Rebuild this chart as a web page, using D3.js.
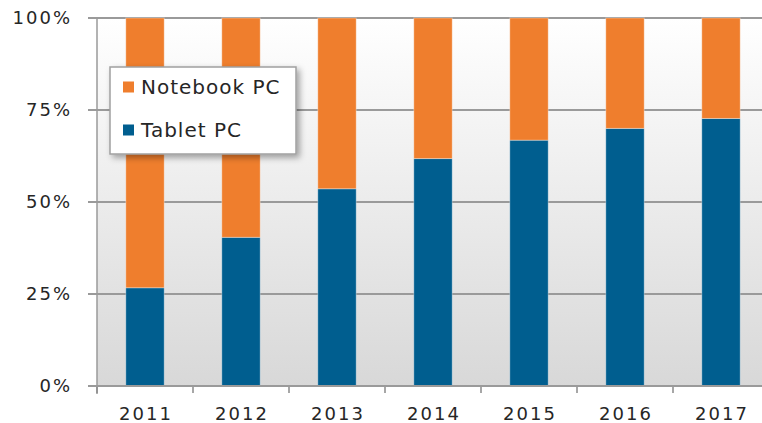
<!DOCTYPE html>
<html>
<head>
<meta charset="utf-8">
<script src="https://cdn.jsdelivr.net/npm/d3@7"></script>
<style>
  body { margin: 0; background: #fff; }
  svg text { font-family: Verdana, "DejaVu Sans", sans-serif; fill: #262626; }
</style>
</head>
<body>
<div id="chart"></div>
<script>
var years = ['2011', '2012', '2013', '2014', '2015', '2016', '2017'];
var tablet = [26.7, 40.4, 53.6, 61.8, 66.8, 70.0, 72.7];
var notebook = [73.3, 59.6, 46.4, 38.2, 33.2, 30.0, 27.3];
var yTicks = [0, 25, 50, 75, 100];
var seriesNames = ['Notebook PC', 'Tablet PC'];
var colors = { 'Tablet PC': '#005e8f', 'Notebook PC': '#ef7e2d' };

var width = 762, height = 423;
var plotLeft = 97, plotTop = 18, plotBottom = 386, plotRight = 769;

var svg = d3.select('#chart').append('svg')
    .attr('width', width)
    .attr('height', height);

var defs = svg.append('defs');
var grad = defs.append('linearGradient')
    .attr('id', 'bg').attr('x1', 0).attr('y1', 0).attr('x2', 0).attr('y2', 1);
grad.append('stop').attr('offset', '0%').attr('stop-color', '#ffffff');
grad.append('stop').attr('offset', '100%').attr('stop-color', '#d8d8d8');

var shadow = defs.append('filter').attr('id', 'shadow')
    .attr('x', '-10%').attr('y', '-10%').attr('width', '130%').attr('height', '140%');
shadow.append('feDropShadow').attr('dx', 3).attr('dy', 3).attr('stdDeviation', 3)
    .attr('flood-color', '#000').attr('flood-opacity', 0.35);

var xScale = d3.scaleBand()
    .domain(years)
    .range([plotLeft, plotRight])
    .paddingInner(0.6)
    .paddingOuter(0.3);

var yScale = d3.scaleLinear()
    .domain([0, 100])
    .range([plotBottom, plotTop]);

// background
svg.append('rect')
    .attr('x', plotLeft).attr('y', plotTop)
    .attr('width', plotRight - plotLeft).attr('height', plotBottom - plotTop)
    .attr('fill', 'url(#bg)');

// grid lines
svg.append('g')
    .selectAll('line')
    .data(yTicks)
    .enter().append('line')
    .attr('x1', plotLeft - 9).attr('x2', plotRight)
    .attr('y1', function(d) { return yScale(d); })
    .attr('y2', function(d) { return yScale(d); })
    .attr('stroke', '#9a9a9a')
    .attr('stroke-width', 2);

// left axis line
svg.append('line')
    .attr('x1', plotLeft).attr('x2', plotLeft)
    .attr('y1', plotTop).attr('y2', plotBottom + 8)
    .attr('stroke', '#9a9a9a').attr('stroke-width', 1.5);

// y labels
svg.append('g')
    .selectAll('text')
    .data(yTicks)
    .enter().append('text')
    .attr('x', 72)
    .attr('y', function(d) { return yScale(d); })
    .attr('dy', '0.36em')
    .attr('text-anchor', 'end')
    .style('font-size', '18px')
    .style('letter-spacing', '2px')
    .text(function(d) { return d + '%'; });

// x ticks at band boundaries
var step = xScale.step();
svg.append('g')
    .selectAll('line')
    .data(years)
    .enter().append('line')
    .attr('x1', function(d) { return xScale(d) + xScale.bandwidth() / 2 - step / 2; })
    .attr('x2', function(d) { return xScale(d) + xScale.bandwidth() / 2 - step / 2; })
    .attr('y1', plotBottom).attr('y2', plotBottom + 7)
    .attr('stroke', '#8a8a8a').attr('stroke-width', 1.5);

// x labels
svg.append('g')
    .selectAll('text')
    .data(years)
    .enter().append('text')
    .attr('x', function(d) { return xScale(d) + xScale.bandwidth() / 2 + 1; })
    .attr('y', 420)
    .attr('text-anchor', 'middle')
    .style('font-size', '18px')
    .style('letter-spacing', '2px')
    .text(function(d) { return d; });

// stacked bars
var rows = years.map(function(y, i) {
  return { year: y, 'Tablet PC': tablet[i], 'Notebook PC': notebook[i] };
});
var stack = d3.stack().keys(['Tablet PC', 'Notebook PC'])(rows);

svg.append('g')
    .selectAll('g')
    .data(stack)
    .enter().append('g')
    .attr('fill', function(s) { return colors[s.key]; })
    .selectAll('rect')
    .data(function(s) { return s; })
    .enter().append('rect')
    .attr('x', function(d) { return xScale(d.data.year); })
    .attr('width', xScale.bandwidth())
    .attr('y', function(d) { return yScale(d[1]); })
    .attr('height', function(d) { return yScale(d[0]) - yScale(d[1]); })
    .attr('stroke', 'rgba(255,255,255,0.35)')
    .attr('stroke-width', 1);

// bottom axis line over bars
svg.append('line')
    .attr('x1', plotLeft - 9).attr('x2', plotRight)
    .attr('y1', plotBottom).attr('y2', plotBottom)
    .attr('stroke', '#9a9a9a').attr('stroke-width', 2);

// legend
var legend = svg.append('g').attr('transform', 'translate(110,67)');
legend.append('rect')
    .attr('width', 186).attr('height', 87)
    .attr('fill', '#fff')
    .attr('stroke', '#a0a0a0').attr('stroke-width', 1.5)
    .attr('filter', 'url(#shadow)');

var items = legend.selectAll('g.item')
    .data(seriesNames)
    .enter().append('g')
    .attr('class', 'item')
    .attr('transform', function(d, i) { return 'translate(13,' + (20 + i * 43) + ')'; });
items.append('rect')
    .attr('y', -5.5)
    .attr('width', 11).attr('height', 11)
    .attr('fill', function(d) { return colors[d]; });
items.append('text')
    .attr('x', 18)
    .attr('dy', '0.36em')
    .style('font-size', '20px')
    .style('letter-spacing', '1px')
    .text(function(d) { return d; });
</script>
</body>
</html>
